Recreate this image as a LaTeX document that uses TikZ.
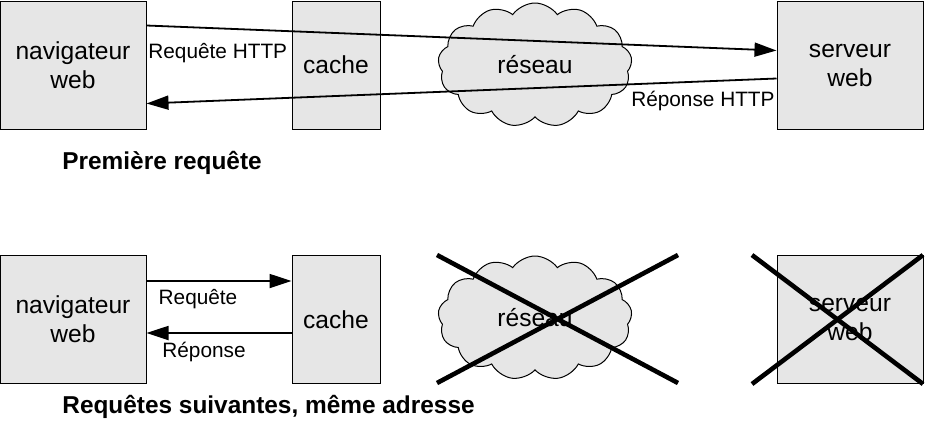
\documentclass[tikz,border=0pt]{standalone}
\usepackage{fontspec}
\setmainfont{Liberation Sans}
\usetikzlibrary{shapes.symbols,arrows.meta}
\definecolor{boxgray}{RGB}{230,230,230}

\begin{document}
\begin{tikzpicture}[
    x=0.5pt,
    y=-0.5pt,
    box/.style={draw, line width=0.5pt, fill=boxgray, inner sep=0pt, align=center,
      minimum height=64pt, font=\fontsize{12.3}{14.5}\selectfont},
    net/.style={cloud, cloud puffs=13, cloud puff arc=110, aspect=1.6, draw,
      line width=0.5pt, fill=boxgray, minimum width=97pt, minimum height=62pt,
      inner sep=0pt, font=\fontsize{12.3}{14.5}\selectfont},
    msg/.style={line width=0.9pt, -{Triangle[length=11pt,width=7pt]}},
    lbl/.style={inner sep=0pt, font=\fontsize{10.4}{12}\selectfont},
    caption/.style={inner sep=0pt, anchor=west, font=\fontsize{12.2}{14}\selectfont\bfseries},
    cross/.style={line width=2.3pt}]

    \useasboundingbox (0,0) rectangle (926,425);

    % First request
    \node[box, minimum width=73pt] (nav1) at (73,65) {navigateur\\web};
    \node[box, minimum width=44pt] (cache1) at (336,65) {cache};
    \node[net] (net1) at (535,65) {r\'eseau\hspace{8pt}};
    \node[box, minimum width=73pt] (srv1) at (850,65) {serveur\\web};

    \draw[msg] ([yshift=-12.5pt]nav1.north east) -- ([yshift=-25pt]srv1.north west);
    \draw[msg] ([yshift=-39pt]srv1.north west) -- ([yshift=-51.5pt]nav1.north east);

    \node[lbl, anchor=west] (req1) at (148,53) {Requête HTTP};
    \node[lbl, anchor=east] (rep1) at (775,101) {Réponse HTTP};

    \node[caption] (cap1) at (62,163) {Première requête};

    % Following requests
    \node[box, minimum width=73pt] (nav2) at (73,319.5) {navigateur\\web};
    \node[box, minimum width=44pt] (cache2) at (336,319.5) {cache};
    \node[net] (net2) at (535,318) {r\'eseau\hspace{8pt}};
    \node[box, minimum width=73pt] (srv2) at (850,319.5) {serveur\\web};

    \draw[msg] ([yshift=-13pt]nav2.north east) -- ([yshift=-13pt]cache2.north west);
    \draw[msg] ([yshift=-39pt]cache2.north west) -- ([yshift=-39pt]nav2.north east);

    \node[lbl] (req2) at (198,299) {Requête};
    \node[lbl] (rep2) at (204,352) {Réponse};

    \node[caption] (cap2) at (62,407) {Requêtes suivantes, même adresse};

    % Crossed out
    \draw[cross] (437,255) -- (678,383);
    \draw[cross] (437,383) -- (678,255);
    \draw[cross] (752,255) -- (923,384);
    \draw[cross] (752,384) -- (923,255);
\end{tikzpicture}
\end{document}
